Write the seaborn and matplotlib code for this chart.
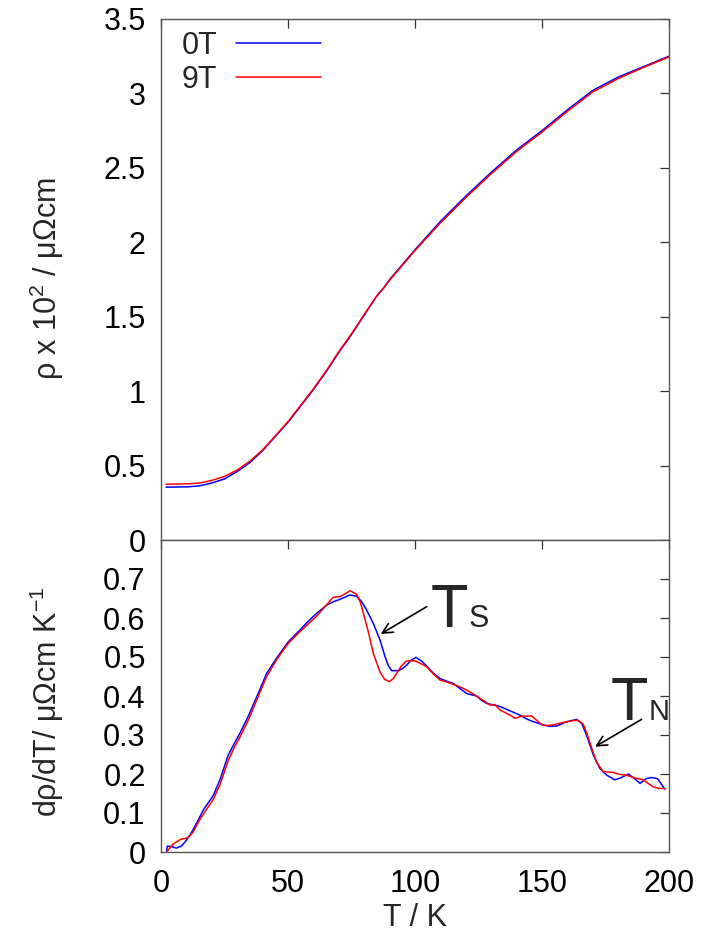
import numpy as np
import pandas as pd
import matplotlib
matplotlib.use("Agg")
import matplotlib.pyplot as plt
import seaborn as sns

# ---------------- data ----------------
# top panel: resistivity (x10^2 uOhm cm)
rho_T_0T = [2, 10, 15, 20, 25, 30, 35, 40, 45, 50, 55, 60, 65, 70, 75, 80, 85, 88, 90, 95,
            100, 110, 120, 130, 140, 150, 160, 170, 180, 190, 200]
rho_0T = [0.355, 0.357, 0.363, 0.383, 0.41, 0.46, 0.52, 0.60, 0.695, 0.79, 0.90, 1.01, 1.13,
          1.26, 1.38, 1.51, 1.64, 1.70, 1.75, 1.85, 1.95, 2.14, 2.31, 2.47, 2.62, 2.75, 2.89,
          3.02, 3.11, 3.18, 3.25]
rho_T_9T = rho_T_0T
rho_9T = [0.375, 0.377, 0.382, 0.40, 0.427, 0.47, 0.53, 0.605, 0.70, 0.795, 0.905, 1.015,
          1.135, 1.265, 1.385, 1.515, 1.64, 1.70, 1.745, 1.845, 1.945, 2.13, 2.30, 2.46, 2.61,
          2.74, 2.88, 3.01, 3.10, 3.175, 3.245]

# bottom panel: d rho / dT (uOhm cm / K)
d_T_0T = [2.2, 2.5, 4, 6, 8, 10, 12, 14.5, 16.7, 19, 20.6, 23.2, 26.5, 29, 31.1, 34.5, 37.7,
          41.6, 45.5, 50.1, 54.7, 58, 61.3, 65.2, 68, 70.5, 74.4, 77, 79, 81, 83.6, 86.2, 88.2,
          89.5, 90.8, 93.4, 95, 96.7, 98.5, 100.4, 102.5, 104.6, 107, 109.8, 112.5, 115.1,
          117.5, 120.4, 124.3, 126, 128.2, 131, 133.5, 137.4, 141.3, 144, 146.6, 150.5, 153,
          155.8, 159.7, 163.7, 165.6, 166.9, 168.2, 170.2, 172.8, 175.5, 178.7, 181, 184,
          186.5, 188.6, 191, 193.2, 195.5, 198.4]
d_0T = [0.003, 0.015, 0.014, 0.01, 0.015, 0.03, 0.05, 0.08, 0.108, 0.13, 0.145, 0.185, 0.249,
        0.28, 0.305, 0.35, 0.398, 0.458, 0.497, 0.539, 0.569, 0.592, 0.612, 0.633, 0.642,
        0.648, 0.659, 0.656, 0.642, 0.62, 0.586, 0.544, 0.501, 0.478, 0.465, 0.465, 0.47,
        0.479, 0.492, 0.499, 0.49, 0.477, 0.46, 0.445, 0.438, 0.432, 0.42, 0.406, 0.40, 0.39,
        0.381, 0.377, 0.373, 0.362, 0.351, 0.341, 0.334, 0.326, 0.322, 0.323, 0.334, 0.34,
        0.33, 0.31, 0.287, 0.249, 0.214, 0.197, 0.185, 0.19, 0.20, 0.188, 0.176, 0.188,
        0.191, 0.188, 0.161]
d_T_9T = [2.2, 4.7, 7.9, 10.5, 12.5, 15, 17.5, 20.6, 23.2, 26.5, 29, 31.1, 34.5, 37.7, 41.6,
          45.5, 50.1, 54.7, 58, 61.3, 65.2, 67.8, 70.5, 72.5, 74.4, 77, 78.5, 79.7, 81.6, 83.6,
          86.2, 88, 89.9, 91.5, 92.8, 94.5, 96.7, 100, 102, 104.6, 107, 109.8, 112.5, 115.1,
          117.5, 120.4, 123, 125.6, 127.5, 129.5, 131.5, 133.5, 137.4, 139.4, 142, 145.9, 148,
          149.9, 152, 154.5, 157, 159.7, 163.7, 165.2, 166.3, 167.6, 168.9, 171.5, 174.1, 176,
          178, 180.5, 183.3, 186.5, 189.9, 191.8, 193.8, 196, 198.4]
d_9T = [0.0, 0.02, 0.033, 0.036, 0.05, 0.08, 0.105, 0.135, 0.172, 0.235, 0.27, 0.295, 0.34,
        0.39, 0.45, 0.493, 0.535, 0.565, 0.585, 0.605, 0.634, 0.653, 0.655, 0.662, 0.67, 0.661,
        0.64, 0.612, 0.565, 0.509, 0.462, 0.443, 0.437, 0.445, 0.458, 0.476, 0.49, 0.49, 0.484,
        0.475, 0.458, 0.441, 0.436, 0.43, 0.424, 0.415, 0.405, 0.394, 0.386, 0.377, 0.378,
        0.364, 0.351, 0.343, 0.348, 0.349, 0.337, 0.326, 0.324, 0.326, 0.33, 0.334, 0.338,
        0.334, 0.327, 0.305, 0.279, 0.23, 0.206, 0.205, 0.204, 0.199, 0.197, 0.19, 0.185,
        0.176, 0.167, 0.163, 0.163]

series_labels = ["0T", "9T"]
series_colors = ["#0000ff", "#ff0000"]
x_ticks = [0, 50, 100, 150, 200]
top_yticks = [0, 0.5, 1, 1.5, 2, 2.5, 3, 3.5]
top_yticklabels = ["0", "0.5", "1", "1.5", "2", "2.5", "3", "3.5"]
bot_yticks = [0, 0.1, 0.2, 0.3, 0.4, 0.5, 0.6, 0.7]
bot_yticklabels = ["0", "0.1", "0.2", "0.3", "0.4", "0.5", "0.6", "0.7"]

# ---------------- style ----------------
sns.set_theme(style="white")
plt.rcParams["font.family"] = ["Liberation Sans", "DejaVu Sans"]
plt.rcParams["mathtext.fontset"] = "custom"
plt.rcParams["mathtext.rm"] = "Liberation Sans"
plt.rcParams["mathtext.it"] = "Liberation Sans"
plt.rcParams["mathtext.default"] = "regular"

FS = 22
W, H = 701, 944
fig = plt.figure(figsize=(W / 100, H / 100), dpi=100)
fig.patch.set_facecolor("white")

L, R = 161, 669
ax1 = fig.add_axes([L / W, 1 - 540 / H, (R - L) / W, (540 - 19) / H])
ax2 = fig.add_axes([L / W, 1 - 852 / H, (R - L) / W, (852 - 540) / H])

top_df = pd.concat([
    pd.DataFrame({"T": rho_T_0T, "v": rho_0T, "field": series_labels[0]}),
    pd.DataFrame({"T": rho_T_9T, "v": rho_9T, "field": series_labels[1]}),
])
bot_df = pd.concat([
    pd.DataFrame({"T": d_T_0T, "v": d_0T, "field": series_labels[0]}),
    pd.DataFrame({"T": d_T_9T, "v": d_9T, "field": series_labels[1]}),
])
pal = dict(zip(series_labels, series_colors))

sns.lineplot(data=top_df, x="T", y="v", hue="field", palette=pal, estimator=None,
             sort=False, lw=1.1, ax=ax1)
sns.lineplot(data=bot_df, x="T", y="v", hue="field", palette=pal, estimator=None,
             sort=False, lw=1.1, ax=ax2, legend=False)

spine_col = "#555555"
for ax in (ax1, ax2):
    ax.set_xlim(0, 200)
    ax.set_xticks(x_ticks)
    for s in ax.spines.values():
        s.set_color(spine_col)
        s.set_linewidth(1.0)
    ax.tick_params(direction="in", length=6.5, width=0.9, color="#333333",
                   top=True, right=True, labelsize=FS, pad=11, labelcolor="black")
    ax.set_xlabel("")
    ax.set_ylabel("")

ax1.set_ylim(0, 3.5)
ax1.set_yticks(top_yticks)
ax1.set_yticklabels(top_yticklabels)
ax1.tick_params(axis="x", labelbottom=False)

ax2.set_ylim(0, 0.8)
ax2.set_yticks(bot_yticks)
ax2.set_yticklabels(bot_yticklabels)
ax2.set_xticklabels([str(t) for t in x_ticks])
ax2.tick_params(axis="x", pad=12)

# legend
leg = ax1.legend(loc="upper left", bbox_to_anchor=(0.041, 0.977), frameon=False,
                 markerfirst=False, fontsize=FS, handlelength=2.8, handletextpad=0.6,
                 labelspacing=0.12, borderpad=0, borderaxespad=0)

# axis labels
fig.text(47 / W, 1 - 279 / H, r"ρ x 10$^{2}$ / μΩcm", rotation=90, ha="center",
         va="center", fontsize=FS)
fig.text(47 / W, 1 - 702 / H, r"dρ/dT/ μΩcm K$^{-1}$", rotation=90, ha="center",
         va="center", fontsize=FS)
fig.text(415 / W, 1 - 918 / H, "T / K", ha="center", va="center", fontsize=FS)

# annotations
ax2.annotate("", xy=(86.5, 0.559), xytext=(104.6, 0.629),
             arrowprops=dict(arrowstyle="->,head_length=0.6,head_width=0.3", lw=1.2,
                             color="black", shrinkA=0, shrinkB=0))
ax2.text(113.5, 0.578, "T", fontsize=44, ha="center", va="baseline")
ax2.text(125.2, 0.578, "S", fontsize=22, ha="center", va="baseline")

ax2.annotate("", xy=(170.9, 0.27), xytext=(189.2, 0.34),
             arrowprops=dict(arrowstyle="->,head_length=0.6,head_width=0.3", lw=1.2,
                             color="black", shrinkA=0, shrinkB=0))
ax2.text(184.4, 0.338, "T", fontsize=44, ha="center", va="baseline")
ax2.text(196.3, 0.338, "N", fontsize=21, ha="center", va="baseline")

fig.savefig("out.png", dpi=100, facecolor="white")
